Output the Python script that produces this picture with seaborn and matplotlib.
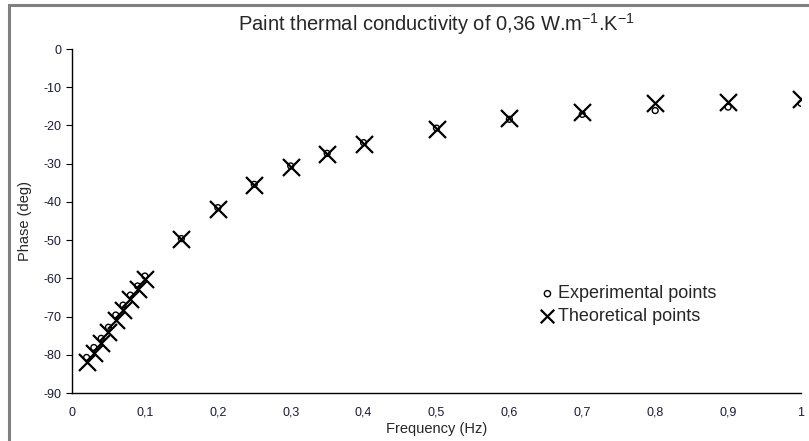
import matplotlib
matplotlib.use("Agg")
import matplotlib.pyplot as plt
from matplotlib.patches import Rectangle
import seaborn as sns
import pandas as pd

# Frequencies (Hz) and phase values (deg)
freq = [0.02, 0.03, 0.04, 0.05, 0.06, 0.07, 0.08, 0.09, 0.1,
        0.15, 0.2, 0.25, 0.3, 0.35, 0.4, 0.5, 0.6, 0.7, 0.8, 0.9, 1.0]
phase_exp = [-80.7, -78.1, -75.7, -72.8, -69.6, -67.0, -64.4, -62.0, -59.4,
             -49.6, -41.5, -35.4, -30.6, -27.3, -24.5, -20.7, -18.4, -17.1, -16.1, -15.2, -14.2]
phase_theo = [-81.8, -79.6, -76.8, -74.0, -71.0, -68.2, -65.4, -62.8, -60.2,
              -49.8, -41.9, -35.6, -31.0, -27.6, -24.8, -20.9, -18.0, -16.4, -14.2, -13.9, -13.1]

x_ticks = [0, 0.1, 0.2, 0.3, 0.4, 0.5, 0.6, 0.7, 0.8, 0.9, 1.0]
x_labels = ["0", "0,1", "0,2", "0,3", "0,4", "0,5", "0,6", "0,7", "0,8", "0,9", "1"]
y_ticks = [0, -10, -20, -30, -40, -50, -60, -70, -80, -90]
y_labels = [str(v) for v in y_ticks]

df_exp = pd.DataFrame({"freq": freq, "phase": phase_exp})
df_theo = pd.DataFrame({"freq": freq, "phase": phase_theo})

sns.set_style("white")
plt.rcParams["font.family"] = ["Liberation Sans", "DejaVu Sans"]
plt.rcParams["axes.unicode_minus"] = False
plt.rcParams["mathtext.fontset"] = "custom"
plt.rcParams["mathtext.rm"] = "Liberation Sans"

fig = plt.figure(figsize=(8.09, 4.41), dpi=100)
ax = fig.add_axes([72 / 809, 1 - 393 / 441, 729 / 809, 344 / 441])

sns.scatterplot(data=df_theo, x="freq", y="phase", marker="x", s=150,
                color="black", linewidth=1.6, ax=ax, label="Theoretical points", zorder=3)
sns.scatterplot(data=df_exp, x="freq", y="phase", marker="o", s=18,
                facecolor="none", edgecolor="black", linewidth=1.0, ax=ax,
                label="Experimental points", zorder=4)

ax.set_xlim(0, 1)
ax.set_ylim(-90, 0)
ax.set_xticks(x_ticks)
ax.set_xticklabels(x_labels)
ax.set_yticks(y_ticks)
ax.set_yticklabels(y_labels)
ax.tick_params(axis="x", direction="in", length=4, labelsize=9, colors="black",
               labelcolor="#1a1a3a", pad=10)
ax.tick_params(axis="y", direction="out", length=4, labelsize=9, colors="black",
               labelcolor="#1a1a3a", left=True)

for s in ["top", "right"]:
    ax.spines[s].set_visible(False)
for s in ["left", "bottom"]:
    ax.spines[s].set_color("black")
    ax.spines[s].set_linewidth(1.0)

ax.set_xlabel("Frequency (Hz)", fontsize=10.5, labelpad=2)
ax.set_ylabel("Phase (deg)", fontsize=10.5, labelpad=8)
ax.set_title(r"Paint thermal conductivity of 0,36 W.m$^{\mathrm{-1}}$.K$^{\mathrm{-1}}$",
             fontsize=14.5, pad=13)

# legend: experimental first, then theoretical
handles, labels = ax.get_legend_handles_labels()
leg = ax.legend(handles[::-1], labels[::-1], loc="upper left",
                bbox_to_anchor=(0.615, 0.36), frameon=False, fontsize=13,
                handletextpad=0.0, labelspacing=0.3, handlelength=1.2)
leg.legend_handles[0].set_sizes([20])
leg.legend_handles[1].set_sizes([95])

# gray frame around the chart area
fig.patches.append(Rectangle((9 / 809, -0.1), 1.2, 1 - 5 / 441 + 0.1,
                             transform=fig.transFigure, fill=False,
                             edgecolor="#808080", linewidth=2.2))

fig.savefig("out.png", dpi=100)
